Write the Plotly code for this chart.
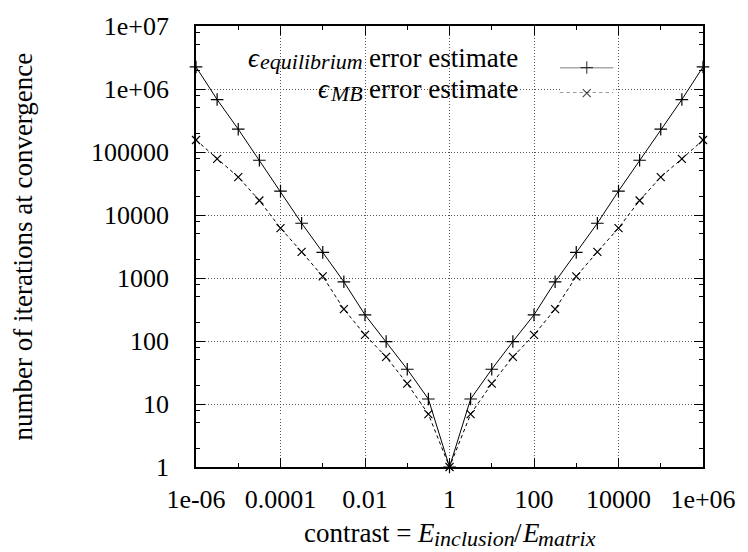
import plotly.graph_objects as go

# Stiffness contrast between inclusion and matrix (half-decade steps)
contrast = [1e-6, 3.162e-6, 1e-5, 3.162e-5, 1e-4, 3.162e-4, 1e-3, 3.162e-3,
            1e-2, 3.162e-2, 1e-1, 3.162e-1, 1.0, 3.162, 10.0, 31.62, 100.0,
            316.2, 1e3, 3162.0, 1e4, 31620.0, 1e5, 316200.0, 1e6]

# Iterations needed to converge with each stopping criterion
iters_equilibrium = [2.24e6, 6.8e5, 2.3e5, 7.4e4, 2.4e4, 7.4e3, 2550, 870, 260,
                     98, 35.6, 12, 1, 12, 35.6, 98, 260, 870, 2550, 7.4e3,
                     2.4e4, 7.4e4, 2.3e5, 6.8e5, 2.24e6]
iters_mb = [1.55e5, 7.8e4, 4.0e4, 1.7e4, 6.2e3, 2.6e3, 1060, 320, 125, 56, 21,
            6.9, 1, 6.9, 21, 56, 125, 320, 1060, 2.6e3, 6.2e3, 1.7e4, 4.0e4,
            7.8e4, 1.55e5]

# Axis tick positions and labels
x_major = [1e-6, 1e-4, 1e-2, 1, 1e2, 1e4, 1e6]
x_major_text = ["1e-06", "0.0001", "0.01", "1", "100", "10000", "1e+06"]
x_minor = [1e-5, 1e-3, 1e-1, 1e1, 1e3, 1e5]
y_major = [1, 10, 100, 1e3, 1e4, 1e5, 1e6, 1e7]
y_major_text = ["1", "10", "100", "1000", "10000", "100000", "1e+06", "1e+07"]
y_minor = [m * 10 ** k for k in range(7) for m in (2, 5, 8)]

# Key entries: (symbol, subscript, description)
key_entries = [("ϵ", "equilibrium", " error estimate"),
               ("ϵ", "MB", " error estimate")]
key_rows = [1, 0]

# Axis titles; the x title is a sequence of (text, italic, subscript) pieces
y_title = "number of iterations at convergence"
x_title_parts = [("contrast = ", False, False), ("E", True, False),
                 ("inclusion", True, True), ("/", False, False),
                 ("E", True, False), ("matrix", True, True)]

FONT = "Liberation Serif, DejaVu Serif, serif"
FS_TICK = 26
FS = 27
FS_SUB = 22

W, H = 748, 552
L, R, T, B = 196, 42, 20, 85
pw, ph = W - L - R, H - T - B

# Advance widths (em) of the serif face, used to lay out composed labels
ROMAN = {" ": .25, "c": .444, "o": .5, "n": .5, "t": .278, "r": .333,
         "a": .444, "s": .389, "e": .444, "=": .564, "/": .278, "i": .278,
         "m": .778}
ITALIC = {"E": .611, "e": .444, "q": .5, "u": .5, "i": .278, "l": .278,
          "b": .5, "r": .389, "m": .722, "M": .833, "B": .611, "n": .5,
          "c": .444, "s": .389, "o": .5, "a": .5, "t": .278, "x": .444,
          "ϵ": .45}


def text_width(s, size, italic):
    table = ITALIC if italic else ROMAN
    return sum(table.get(ch, .5) for ch in s) * size


def px_x(p):
    return (p - L) / pw


def px_y(p):
    return (H - B - p) / ph


def piece(fig, text, x_left, y_mid, size, italic):
    fig.add_annotation(text=text, xref="paper", yref="paper",
                       x=px_x(x_left), y=px_y(y_mid), xanchor="left",
                       yanchor="middle", showarrow=False, borderpad=0,
                       borderwidth=0,
                       font=dict(family=FONT, size=size, color="black",
                                 style="italic" if italic else "normal"))


fig = go.Figure()

fig.add_trace(go.Scatter(
    x=contrast, y=iters_equilibrium, mode="lines+markers",
    line=dict(color="black", width=1),
    marker=dict(symbol="cross-thin", size=9, line=dict(color="black", width=1.2)),
    cliponaxis=False, showlegend=False))
fig.add_trace(go.Scatter(
    x=contrast, y=iters_mb, mode="lines+markers",
    line=dict(color="black", width=1, dash="3.5px,3px"),
    marker=dict(symbol="x-thin", size=8, line=dict(color="black", width=1.2)),
    cliponaxis=False, showlegend=False))

# Key rows (pixel centres) and the samples drawn on a small auxiliary axis pair
ROW_Y = [52, 84]
fig.add_trace(go.Scatter(
    x=[0, 0.5, 1], y=[key_rows[0]] * 3, xaxis="x2", yaxis="y2",
    mode="lines+markers", line=dict(color="#555", width=1.3),
    marker=dict(symbol="cross-thin", size=[0, 9, 0], line=dict(color="black", width=1.2)),
    cliponaxis=False, showlegend=False))
fig.add_trace(go.Scatter(
    x=[0, 0.5, 1], y=[key_rows[1]] * 3, xaxis="x2", yaxis="y2",
    mode="lines+markers", line=dict(color="black", width=1, dash="3.5px,3px"),
    marker=dict(symbol="x-thin", size=[0, 8, 0], line=dict(color="black", width=1.2)),
    cliponaxis=False, showlegend=False))

axis_common = dict(
    type="log", tickmode="array", ticks="inside", ticklen=9, tickwidth=1,
    tickcolor="black", showgrid=True, gridcolor="#555", griddash="1px,2px",
    gridwidth=1, showline=True, linecolor="black", linewidth=1.8,
    mirror="allticks", zeroline=False,
    tickfont=dict(family=FONT, size=FS_TICK, color="black"),
)

fig.update_layout(
    width=W, height=H,
    margin=dict(l=L, r=R, t=T, b=B),
    paper_bgcolor="white", plot_bgcolor="white",
    font=dict(family=FONT, size=FS, color="black"),
    xaxis=dict(range=[-6, 6], tickvals=x_major, ticktext=x_major_text,
               ticklabelstandoff=8,
               minor=dict(tickmode="array", tickvals=x_minor, ticks="inside",
                          ticklen=4, tickcolor="black", showgrid=False),
               **axis_common),
    yaxis=dict(range=[0, 7], tickvals=y_major, ticktext=y_major_text,
               ticklabelstandoff=20, ticksuffix="\u00a0",
               minor=dict(tickmode="array", tickvals=y_minor, ticks="inside",
                          ticklen=4, tickcolor="black", showgrid=False),
               **axis_common),
    xaxis2=dict(domain=[537 / W, 616 / W], range=[0, 1], anchor="y2",
                visible=False, fixedrange=True),
    yaxis2=dict(domain=[1 - ROW_Y[1] / H, 1 - ROW_Y[0] / H], range=[0, 1],
                anchor="x2", visible=False, fixedrange=True),
)

# Opaque key box (log-axis units): above the grid, beneath the curves
fig.add_shape(type="rect", xref="x", yref="y",
              x0=-5.78, x1=4.29, y0=5.77, y1=6.72,
              fillcolor="white", line=dict(width=0), layer="between")

# Key labels, right-aligned against the samples
KEY_RIGHT = 519
SUB_DROP = 4
for (sym, sub, desc), ymid in zip(key_entries, ROW_Y):
    w_desc = text_width(desc, FS, False)
    w_sub = text_width(sub, FS_SUB, True)
    w_sym = text_width(sym, FS, True)
    x_desc = KEY_RIGHT - w_desc
    x_sub = x_desc - w_sub
    x_sym = x_sub - w_sym
    piece(fig, desc.strip(), x_desc + text_width(" ", FS, False), ymid, FS, False)
    piece(fig, sub, x_sub, ymid + SUB_DROP, FS_SUB, True)
    piece(fig, sym, x_sym, ymid, FS, True)

# x-axis title, centred under the plot
widths = [text_width(t, FS_SUB if s else FS, it) for t, it, s in x_title_parts]
x_cursor = L + pw / 2 - sum(widths) / 2
for (t, it, s), w in zip(x_title_parts, widths):
    if t.endswith(" "):
        piece(fig, t.rstrip(), x_cursor, 534, FS, it)
    else:
        piece(fig, t, x_cursor, 534 + (SUB_DROP + 1 if s else 0),
              FS_SUB if s else FS, it)
    x_cursor += w

fig.add_annotation(text=y_title, textangle=-90,
                   xref="paper", yref="paper", x=px_x(21), y=0.5,
                   xanchor="center", yanchor="middle", showarrow=False,
                   font=dict(family=FONT, size=FS, color="black"))

fig.write_html("out.html")
